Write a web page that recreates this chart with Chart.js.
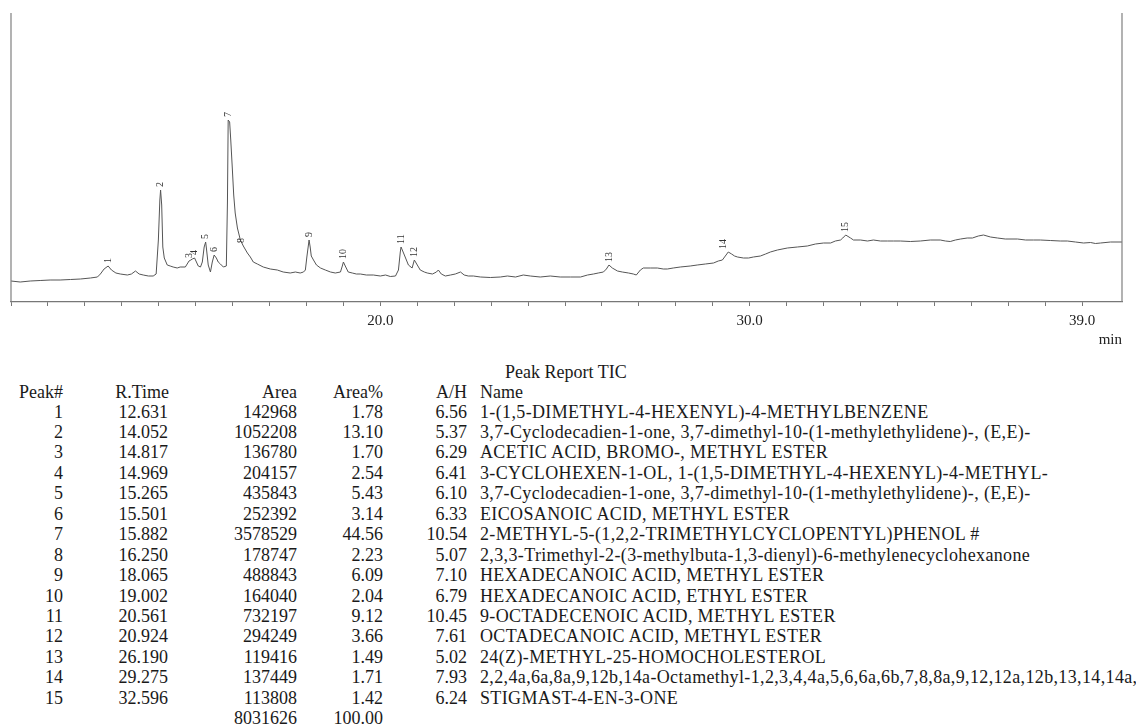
<!DOCTYPE html>
<html>
<head>
<meta charset="utf-8">
<script src="https://cdn.jsdelivr.net/npm/chart.js@4.4.1/dist/chart.umd.min.js"></script>
<style>
  html, body { margin: 0; padding: 0; background: #fff; overflow: hidden; }
  body { width: 1136px; height: 724px; position: relative; font-family: 'Liberation Serif', 'Times New Roman', serif; color: #1a1a1a; }
  #chartBox { position: absolute; left: 0; top: 0; width: 1136px; height: 350px; }
  .cell { position: absolute; font-size: 18px; line-height: 20px; white-space: nowrap; }
  .r { text-align: right; }
  .name { letter-spacing: 0.36px; }
</style>
</head>
<body>
<div id="chartBox"><canvas id="tic" width="1136" height="350"></canvas></div>
<div id="report"></div>

<script>
// TIC trace (retention time in min, relative intensity)
const traceTime = [
  10.00, 10.25, 10.52, 10.79, 11.06, 11.33, 11.61, 11.88, 12.15, 12.34,
  12.42, 12.52, 12.63, 12.72, 12.84, 12.96, 13.15, 13.26, 13.37, 13.47,
  13.58, 13.72, 13.85, 13.93, 13.99, 14.03, 14.05, 14.08, 14.11, 14.15,
  14.23, 14.31, 14.39, 14.50, 14.58, 14.72, 14.82, 14.87, 14.91, 14.97,
  15.02, 15.07, 15.13, 15.18, 15.23, 15.27, 15.29, 15.34, 15.40, 15.45,
  15.50, 15.56, 15.61, 15.67, 15.75, 15.83, 15.86, 15.88, 15.92, 15.95,
  15.99, 16.03, 16.07, 16.13, 16.21, 16.29, 16.40, 16.48, 16.56, 16.67,
  16.83, 17.02, 17.21, 17.37, 17.56, 17.70, 17.83, 17.92, 17.97, 18.01,
  18.07, 18.10, 18.13, 18.19, 18.27, 18.38, 18.51, 18.65, 18.78, 18.92,
  18.97, 19.00, 19.05, 19.13, 19.24, 19.35, 19.46, 19.62, 19.81, 20.00,
  20.14, 20.27, 20.41, 20.49, 20.54, 20.56, 20.65, 20.76, 20.86, 20.89,
  20.92, 21.00, 21.08, 21.19, 21.27, 21.41, 21.52, 21.57, 21.65, 21.76,
  21.90, 22.03, 22.17, 22.27, 22.38, 22.52, 22.71, 22.98, 23.25, 23.44,
  23.66, 23.87, 24.06, 24.33, 24.60, 24.87, 25.15, 25.42, 25.61, 25.77,
  25.90, 26.04, 26.12, 26.19, 26.28, 26.42, 26.55, 26.72, 26.85, 26.93,
  27.04, 27.12, 27.31, 27.50, 27.66, 27.77, 27.93, 28.12, 28.39, 28.58,
  28.80, 29.02, 29.15, 29.26, 29.34, 29.42, 29.51, 29.59, 29.67, 29.83,
  29.97, 30.10, 30.29, 30.43, 30.56, 30.75, 31.02, 31.29, 31.56, 31.78,
  32.00, 32.19, 32.32, 32.46, 32.52, 32.60, 32.73, 32.81, 33.00, 33.19,
  33.35, 33.54, 33.73, 33.89, 34.08, 34.35, 34.62, 34.89, 35.16, 35.30,
  35.43, 35.57, 35.71, 35.89, 36.03, 36.19, 36.33, 36.52, 36.71, 36.92,
  37.25, 37.47, 37.68, 37.87, 38.14, 38.41, 38.60, 38.82, 39.04, 39.23,
  39.36, 39.50, 39.77, 40.08
];
const traceSignal = [
  21, 20, 21, 21.5, 22, 22, 22.5, 23, 24, 25,
  28, 33, 36, 32, 29, 28, 27, 28, 31, 28,
  27, 26, 26, 28, 62, 102, 112, 97, 55, 44,
  37, 36, 35, 34, 35, 35, 41, 42, 43, 44,
  40, 36, 35, 40, 55, 60, 54, 37, 30, 40,
  47, 44, 40, 38, 35, 36, 100, 182, 180, 162,
  135, 107, 89, 74, 62, 56, 49, 45, 40, 38,
  35, 33, 32, 30, 29, 30, 29, 30, 32, 45,
  62, 55, 46, 42, 37, 34, 32, 30, 29, 30,
  36, 40, 36, 30, 29, 28, 28, 27, 27, 26,
  27, 25.5, 26, 32, 50, 55, 47, 37, 34, 38,
  42, 37, 32, 30, 29, 28, 30, 32, 28, 26,
  27, 28, 30, 27, 26, 26, 25, 24.5, 25, 26,
  25, 27, 26, 25, 26, 25, 25, 25, 27, 28,
  29, 30, 33, 37, 34, 31, 30, 29, 28, 27,
  32, 34, 34, 34, 33, 33, 34, 35, 36, 37,
  38, 39, 41, 42, 46, 50, 48, 46, 45, 44,
  44, 45, 46, 48, 50, 52, 54, 55, 56, 58,
  59, 59, 61, 62, 64, 67, 64, 62, 62, 61,
  62, 61, 61, 61, 61, 60.5, 61, 62, 62, 61,
  60.5, 62, 63, 64, 64, 66, 67, 65, 64, 63,
  63, 62, 62, 62, 61.5, 61, 61, 60, 59, 59.5,
  58.5, 59, 60, 60
];

// peak report
const peakNo = [1, 2, 3, 4, 5, 6, 7, 8, 9, 10, 11, 12, 13, 14, 15];
const rTime = ['12.631', '14.052', '14.817', '14.969', '15.265', '15.501', '15.882', '16.250',
  '18.065', '19.002', '20.561', '20.924', '26.190', '29.275', '32.596'];
const peakTop = [36, 112, 41, 44, 60, 47, 182, 56, 62, 40, 55, 42, 37, 50, 67];
const area = [142968, 1052208, 136780, 204157, 435843, 252392, 3578529, 178747,
  488843, 164040, 732197, 294249, 119416, 137449, 113808];
const areaPct = ['1.78', '13.10', '1.70', '2.54', '5.43', '3.14', '44.56', '2.23',
  '6.09', '2.04', '9.12', '3.66', '1.49', '1.71', '1.42'];
const aH = ['6.56', '5.37', '6.29', '6.41', '6.10', '6.33', '10.54', '5.07',
  '7.10', '6.79', '10.45', '7.61', '5.02', '7.93', '6.24'];
const compound = [
  '1-(1,5-DIMETHYL-4-HEXENYL)-4-METHYLBENZENE',
  '3,7-Cyclodecadien-1-one, 3,7-dimethyl-10-(1-methylethylidene)-, (E,E)-',
  'ACETIC ACID, BROMO-, METHYL ESTER',
  '3-CYCLOHEXEN-1-OL, 1-(1,5-DIMETHYL-4-HEXENYL)-4-METHYL-',
  '3,7-Cyclodecadien-1-one, 3,7-dimethyl-10-(1-methylethylidene)-, (E,E)-',
  'EICOSANOIC ACID, METHYL ESTER',
  '2-METHYL-5-(1,2,2-TRIMETHYLCYCLOPENTYL)PHENOL #',
  '2,3,3-Trimethyl-2-(3-methylbuta-1,3-dienyl)-6-methylenecyclohexanone',
  'HEXADECANOIC ACID, METHYL ESTER',
  'HEXADECANOIC ACID, ETHYL ESTER',
  '9-OCTADECENOIC ACID, METHYL ESTER',
  'OCTADECANOIC ACID, METHYL ESTER',
  '24(Z)-METHYL-25-HOMOCHOLESTEROL',
  '2,2,4a,6a,8a,9,12b,14a-Octamethyl-1,2,3,4,4a,5,6,6a,6b,7,8,8a,9,12,12a,12b,13,14,14a,',
  'STIGMAST-4-EN-3-ONE'
];
const totalArea = 8031626;
const totalPct = '100.00';
const labeledTicks = [20, 30, 39];

// frame (left/right lines) + peak numbers
const framePlugin = {
  id: 'frame',
  afterDatasetsDraw(chart) {
    const { ctx, chartArea, scales } = chart;
    ctx.save();
    ctx.strokeStyle = '#808080';
    ctx.lineWidth = 1.2;
    ctx.beginPath();
    ctx.moveTo(chartArea.left, chartArea.top);
    ctx.lineTo(chartArea.left, chartArea.bottom);
    ctx.moveTo(chartArea.right, chartArea.top);
    ctx.lineTo(chartArea.right, chartArea.bottom);
    ctx.stroke();

    ctx.fillStyle = '#333';
    ctx.font = '10px "Liberation Serif", serif';
    ctx.textAlign = 'left';
    ctx.textBaseline = 'middle';
    peakNo.forEach((n, i) => {
      const x = scales.x.getPixelForValue(parseFloat(rTime[i]));
      const y = scales.y.getPixelForValue(peakTop[i]) - 3;
      ctx.save();
      ctx.translate(x, y);
      ctx.rotate(-Math.PI / 2);
      ctx.fillText(String(n), 0, 0);
      ctx.restore();
    });
    ctx.restore();
  }
};

const ctx = document.getElementById('tic').getContext('2d');
const ticChart = new Chart(ctx, {
  type: 'line',
  data: {
    datasets: [{
      data: traceTime.map((t, i) => ({ x: t, y: traceSignal[i] })),
      borderColor: '#555',
      borderWidth: 1,
      pointRadius: 0,
      tension: 0,
      fill: false
    }]
  },
  options: {
    responsive: false,
    animation: false,
    layout: { padding: { left: 11, right: 14, top: 13, bottom: 0 } },
    plugins: { legend: { display: false }, tooltip: { enabled: false } },
    scales: {
      x: {
        type: 'linear',
        min: 10,
        max: 40.08,
        afterFit: (scale) => { scale.height = 48; },
        afterBuildTicks: (scale) => {
          scale.ticks = scale.ticks.filter(t => Number.isInteger(t.value));
        },
        ticks: {
          stepSize: 1,
          autoSkip: false,
          maxRotation: 0,
          padding: 6,
          color: '#222',
          font: { family: 'Liberation Serif', size: 15 },
          callback: (v) => labeledTicks.includes(v) ? v.toFixed(1) : ''
        },
        grid: { display: true, drawOnChartArea: false, drawTicks: true, tickLength: 4, color: '#777' },
        border: { display: true, color: '#777', width: 1.2 },
        title: {
          display: true, text: 'min', align: 'end', color: '#222',
          font: { family: 'Liberation Serif', size: 15 },
          padding: { top: 0, bottom: 1 }
        }
      },
      y: { display: false, min: 0, max: 289 }
    }
  },
  plugins: [framePlugin]
});

// peak report text
const report = document.getElementById('report');
function cell(text, left, top, width, right, extra) {
  const d = document.createElement('div');
  d.className = 'cell' + (right ? ' r' : '') + (extra ? ' ' + extra : '');
  d.textContent = text;
  d.style.top = top + 'px';
  if (right) { d.style.left = (left - width) + 'px'; d.style.width = width + 'px'; }
  else d.style.left = left + 'px';
  report.appendChild(d);
}
const rowTop = (i) => 401.5 + i * 20.45;
cell('Peak Report TIC', 505, 361.5, 0, false);
cell('Peak#', 63, 381.5, 80, true);
cell('R.Time', 169, 381.5, 80, true);
cell('Area', 297, 381.5, 100, true);
cell('Area%', 383, 381.5, 80, true);
cell('A/H', 467, 381.5, 60, true);
cell('Name', 480, 381.5, 0, false);
peakNo.forEach((n, i) => {
  const top = rowTop(i);
  cell(String(n), 63, top, 60, true);
  cell(rTime[i], 168, top, 80, true);
  cell(String(area[i]), 297, top, 100, true);
  cell(areaPct[i], 383, top, 80, true);
  cell(aH[i], 467, top, 60, true);
  cell(compound[i], 480, top, 0, false, 'name');
});
cell(String(totalArea), 297, rowTop(15), 100, true);
cell(totalPct, 383, rowTop(15), 80, true);
</script>
</body>
</html>
